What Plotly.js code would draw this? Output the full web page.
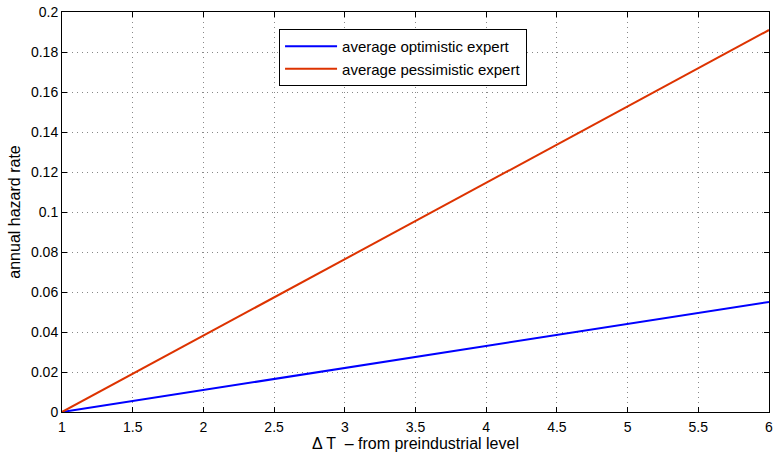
<!DOCTYPE html>
<html><head><meta charset="utf-8">
<script src="https://cdn.plot.ly/plotly-3.0.1.min.js"></script>
<style>body{margin:0;padding:0;background:#fff}#chart{width:774px;height:453px}</style>
</head><body><div id="chart"></div>
<script>
const deltaT = [1, 1.5, 2, 2.5, 3, 3.5, 4, 4.5, 5, 5.5, 6];
const optimistic = [0, 0.0055, 0.011, 0.0165, 0.022, 0.0275, 0.033, 0.0385, 0.044, 0.0495, 0.055];
const pessimistic = [0, 0.0191, 0.0382, 0.0573, 0.0764, 0.0955, 0.1146, 0.1337, 0.1528, 0.1719, 0.191];
const seriesNames = ['average optimistic expert', 'average pessimistic expert'];
const xTicks = [1, 1.5, 2, 2.5, 3, 3.5, 4, 4.5, 5, 5.5, 6];
const yTicks = [0, 0.02, 0.04, 0.06, 0.08, 0.1, 0.12, 0.14, 0.16, 0.18, 0.2];

const fam = 'Liberation Sans, Arial, sans-serif';
const tickFont = {family: fam, size: 14, color: '#000'};
const titleFont = {family: fam, size: 16, color: '#000'};
const traces = [
  {x: deltaT, y: optimistic, mode: 'lines', name: seriesNames[0], line: {color: '#0000ff', width: 2}},
  {x: deltaT, y: pessimistic, mode: 'lines', name: seriesNames[1], line: {color: '#dd3300', width: 2}}
];
const axisCommon = {
  showline: true, linecolor: '#000', linewidth: 1, mirror: 'ticks',
  ticks: 'inside', ticklen: 5, tickcolor: '#000', tickwidth: 1,
  showgrid: true, gridcolor: '#888', griddash: '1px,4px', gridwidth: 1,
  zeroline: false, tickfont: tickFont
};
const layout = {
  width: 774, height: 453,
  margin: {l: 62, r: 5, t: 12, b: 41},
  paper_bgcolor: '#fff', plot_bgcolor: '#fff',
  font: tickFont,
  showlegend: true,
  legend: {x: 0.307, y: 0.9575, xanchor: 'left', yanchor: 'top', bgcolor: '#fff',
    bordercolor: '#000', borderwidth: 1, itemwidth: 52,
    font: {family: fam, size: 15, color: '#000'}, tracegroupgap: 0},
  xaxis: Object.assign({}, axisCommon, {range: [1, 6], tickvals: xTicks, ticktext: xTicks.map(String),
    ticklabelstandoff: 2,
    title: {text: '\u0394 T  \u2013 from preindustrial level', font: titleFont, standoff: 2}}),
  yaxis: Object.assign({}, axisCommon, {range: [0, 0.2], tickvals: yTicks, ticktext: yTicks.map(String),
    title: {text: 'annual hazard rate', font: titleFont, standoff: 6}})
};
Plotly.newPlot('chart', traces, layout, {displayModeBar: false, staticPlot: true});
</script></body></html>
